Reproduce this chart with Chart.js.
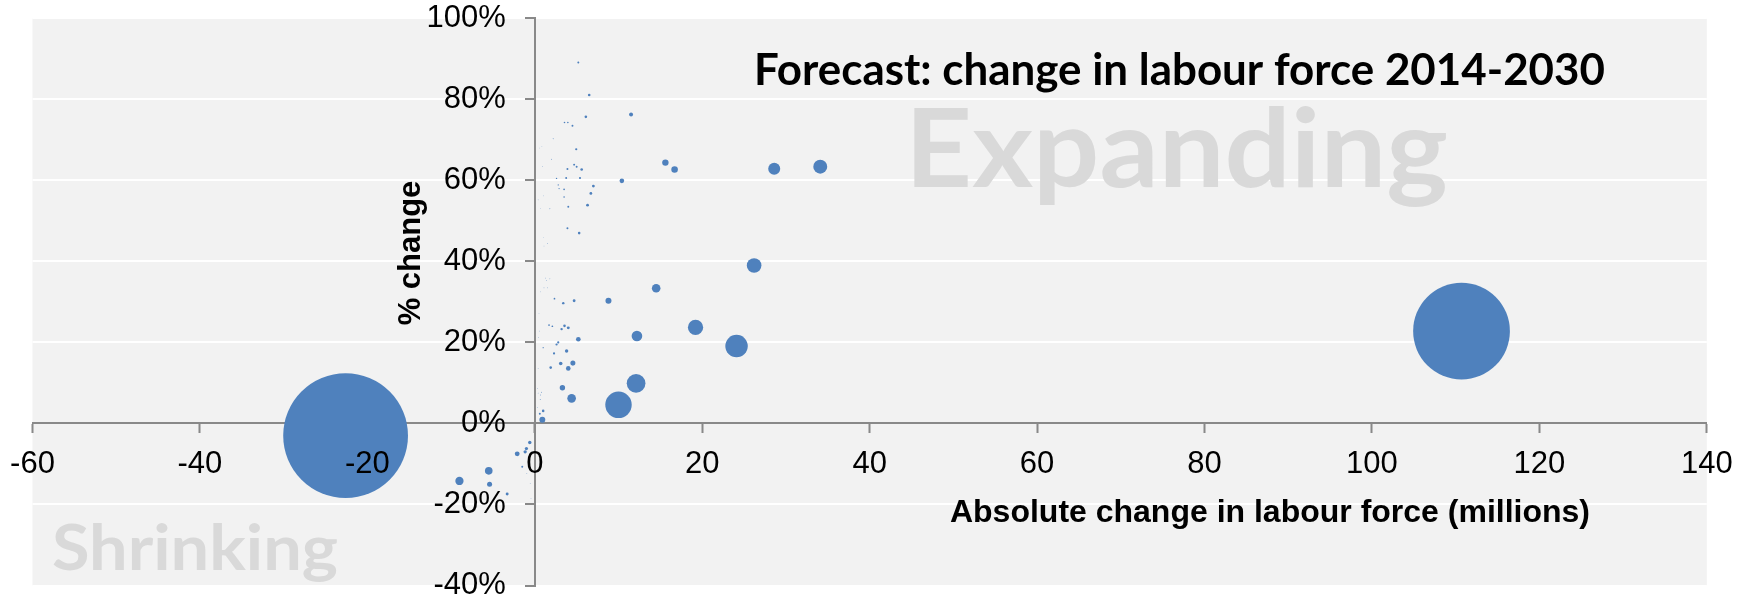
<!DOCTYPE html>
<html>
<head>
<meta charset="utf-8">
<script src="https://cdn.jsdelivr.net/npm/chart.js@4/dist/chart.umd.min.js"></script>
<style>
  html, body { margin: 0; padding: 0; background: #ffffff; }
  #wrap { width: 1750px; height: 611px; position: relative; }
</style>
</head>
<body>
<div id="wrap"><canvas id="myChart"></canvas></div>
<script>
// Absolute change in labour force 2014-2030 (millions)
const absChange = [
  -22.6, 110.7, 10.0, 24.1, 12.1, 19.2, 26.2, 34.1, 28.6, 12.2,
  14.5, 4.4, -9.0, -5.5, 16.7, 15.6, 8.8, 0.9, 3.3, -5.4,
  4.55, -2.1, 10.4, 5.2, 4.0, 11.5, 3.1, 3.8, -0.6, -1.15,
  -1.0, -3.3, 4.0, 4.7, 7.0, 6.7, 6.3, 6.5, 6.1, 5.6,
  5.3, 3.55, 1.9, 1.0, 3.4, 3.2, 4.95, 5.4, 2.8, 2.6,
  2.3, 5.2, 4.5, 4.7, 5.0, 3.9, 3.75, 4.0, 3.9, 0.6,
  -1.5, 3.5, 2.35, 1.7, 2.1, 3.55, 3.95, 3.5, 2.6, 2.8,
  2.9, 1.0, 2.2, 2.0, 1.8, 1.5, 0.8, 0.7, 0.65, 0.6,
  0.85, 0.9, 1.0, 0.4, 0.65, 1.0, 1.1, 1.3, 1.8, 1.4,
  1.1, 1.5, 0.65, 0.5, 0.55, 0.45, 0.4, 0.3, 0.4, 0.3,
  -0.35, -0.95, -0.55, -0.45
];

// % change in labour force 2014-2030
const pctChange = [
  -3.0, 22.8, 4.6, 19.1, 9.9, 23.7, 39.0, 63.4, 62.9, 21.6,
  33.4, 6.2, -14.2, -11.7, 62.7, 64.4, 30.3, 0.9, 8.8, -15.0,
  14.9, -7.5, 59.9, 20.8, 13.6, 76.3, 14.8, 17.9, -4.7, -7.0,
  -6.2, -17.4, 23.6, 30.3, 58.6, 56.8, 53.9, 81.1, 75.7, 62.7,
  47.0, 24.1, 13.8, 3.1, 29.7, 23.3, 67.7, 60.6, 20.0, 19.5,
  17.3, 89.1, 73.5, 63.9, 63.4, 62.8, 60.6, 53.5, 48.2, 2.4,
  -10.7, 57.8, 30.8, 24.3, 24.0, 74.3, 74.3, 55.9, 60.5, 58.9,
  58.0, 18.7, 70.3, 65.2, 53.0, 44.4, 7.7, 7.0, 5.9, 68.0,
  68.3, 63.4, 56.2, 55.2, 53.0, 45.9, 43.8, 35.9, 35.7, 35.3,
  33.5, 33.5, 32.5, 27.1, 22.8, 21.2, 13.6, 8.6, 7.5, 3.9,
  -7.0, -12.3, -14.8, -18.5
];

// Labour force size (millions) -> bubble area
const labourForce = [
  800, 481, 36, 26, 18, 12, 11, 10, 7.4, 5.8,
  3.8, 3.8, 3.5, 3.0, 2.2, 2.1, 1.85, 1.8, 1.5, 1.3,
  1.3, 1.2, 1.1, 1.1, 1.1, 0.8, 0.65, 0.6, 0.6, 0.55,
  0.55, 0.45, 0.45, 0.4, 0.4, 0.4, 0.4, 0.35, 0.35, 0.35,
  0.35, 0.35, 0.35, 0.35, 0.3, 0.3, 0.25, 0.25, 0.25, 0.25,
  0.25, 0.2, 0.2, 0.2, 0.2, 0.2, 0.2, 0.2, 0.2, 0.2,
  0.2, 0.15, 0.15, 0.15, 0.15, 0.13, 0.13, 0.13, 0.1, 0.08,
  0.08, 0.08, 0.05, 0.05, 0.05, 0.05, 0.05, 0.05, 0.05, 0.02,
  0.02, 0.02, 0.02, 0.02, 0.02, 0.02, 0.02, 0.03, 0.03, 0.03,
  0.03, 0.03, 0.02, 0.02, 0.02, 0.02, 0.02, 0.02, 0.03, 0.02,
  0.02, 0.03, 0.02, 0.02
];

const xTicks = [-60, -40, -20, 0, 20, 40, 60, 80, 100, 120, 140];
const yTicks = [-40, -20, 0, 20, 40, 60, 80, 100];

const chartTitle = 'Forecast: change in labour force 2014-2030';
const xTitle = 'Absolute change in labour force (millions)';
const yTitle = '% change';

// bubble radius from area (Excel sizes bubbles by area)
const radiusFor = size => 2.206 * Math.sqrt(size);

const points = absChange.map((x, i) => ({ x: x, y: pctChange[i], r: radiusFor(labourForce[i]) }));

const tickFontCss = '31px "Liberation Sans", Arial, sans-serif';

// text drawn scaled to a given cap height and width (stand-in for Calibri)
function fittedText(ctx, text, left, baseline, capH, width, color) {
    const size = capH / 0.7165;
    ctx.save();
    ctx.font = 'bold ' + size + 'px Lato';
    ctx.fillStyle = color;
    ctx.textAlign = 'left';
    ctx.textBaseline = 'alphabetic';
    const w = ctx.measureText(text).width;
    ctx.translate(left, baseline);
    ctx.scale(width / w, 1);
    ctx.fillText(text, 0, 0);
    ctx.restore();
}

// axes sit inside the plot (crossing at zero), so they take no layout room
function noRoom(scale) {
    if (scale.isHorizontal()) scale.height = 0; else scale.width = 0;
    scale.paddingLeft = 0; scale.paddingRight = 0;
    scale.paddingTop = 0; scale.paddingBottom = 0;
}

const plotBackground = {
    id: 'plotBackground',
    beforeDraw(chart) {
        const { ctx, chartArea: a } = chart;
        ctx.save();
        ctx.fillStyle = '#f2f2f2';
        ctx.fillRect(a.left, a.top, a.right - a.left, a.bottom - a.top);
        ctx.restore();
    }
};

const textBoxes = {
    id: 'textBoxes',
    beforeDatasetsDraw(chart) {
        const ctx = chart.ctx;
        fittedText(ctx, 'Expanding', 905, 187, 78, 543, '#d9d9d9');
        fittedText(ctx, 'Shrinking', 52, 570, 45, 286, '#d9d9d9');
        fittedText(ctx, chartTitle, 754, 85, 32, 851, '#000000');

        ctx.save();
        ctx.fillStyle = '#000000';
        ctx.font = 'bold 32px "Liberation Sans", Arial, sans-serif';
        ctx.textAlign = 'right';
        ctx.textBaseline = 'alphabetic';
        ctx.fillText(xTitle, 1590, 522);

        ctx.font = 'bold 31px "Liberation Sans", Arial, sans-serif';
        ctx.translate(420, 253);
        ctx.rotate(-Math.PI / 2);
        ctx.textAlign = 'center';
        ctx.fillText(yTitle, 0, 0);
        ctx.restore();
    },
    // y tick labels, placed off the scale left of the crossing axis
    afterDatasetsDraw(chart) {
        const { ctx, scales } = chart;
        const axisX = scales.x.getPixelForValue(0);
        ctx.save();
        ctx.fillStyle = '#000000';
        ctx.font = tickFontCss;
        ctx.textAlign = 'right';
        ctx.textBaseline = 'middle';
        scales.y.ticks.forEach(t => {
            ctx.fillText(t.value + '%', axisX - 29, scales.y.getPixelForValue(t.value));
        });
        ctx.restore();
    }
};

const ctx = document.getElementById('myChart').getContext('2d');
const chart = new Chart(ctx, {
    type: 'bubble',
    data: {
        datasets: [{
            label: 'Countries',
            data: points,
            backgroundColor: '#4f81bd',
            borderColor: '#4f81bd',
            borderWidth: 0
        }]
    },
    options: {
        responsive: true,
        maintainAspectRatio: false,
        animation: false,
        layout: { autoPadding: false, padding: { left: 32.5, top: 18.4, right: 43.2, bottom: 25.5 } },
        plugins: {
            legend: { display: false },
            title: { display: false },
            tooltip: { enabled: false }
        },
        scales: {
            x: {
                type: 'linear',
                position: { y: 0 },
                min: -60,
                max: 140,
                afterBuildTicks: axis => { axis.ticks = xTicks.map(v => ({ value: v })); },
                afterFit: noRoom,
                grid: { drawOnChartArea: false, tickColor: '#898989', tickLength: 9, tickWidth: 2 },
                border: { color: '#898989', width: 2 },
                ticks: { color: '#000000', font: { family: '"Liberation Sans", Arial, sans-serif', size: 31 }, padding: 13, maxRotation: 0, z: 1 }
            },
            y: {
                type: 'linear',
                position: { x: 0 },
                min: -40,
                max: 100,
                afterBuildTicks: axis => { axis.ticks = yTicks.map(v => ({ value: v })); },
                afterFit: noRoom,
                grid: { color: '#ffffff', lineWidth: 2, tickColor: '#898989', tickLength: 9, tickWidth: 2 },
                border: { color: '#898989', width: 2 },
                ticks: { display: false }
            }
        }
    },
    plugins: [plotBackground, textBoxes]
});
</script>
</body>
</html>
